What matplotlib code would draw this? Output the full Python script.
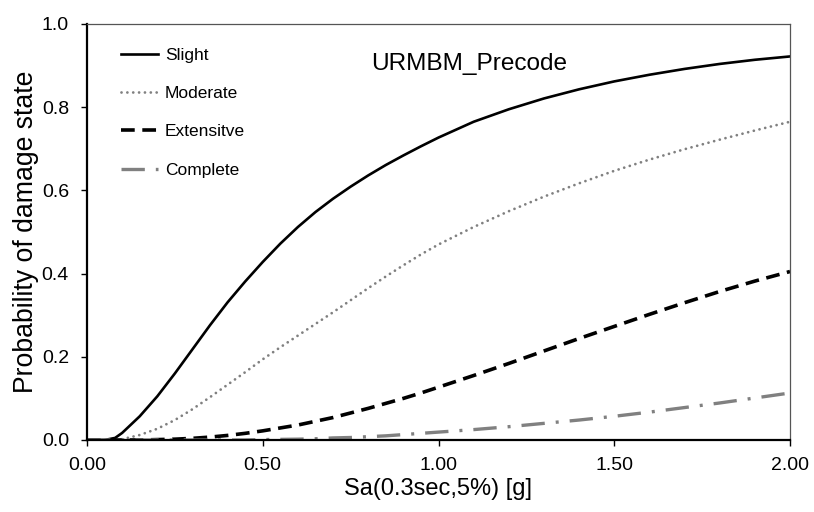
import matplotlib
matplotlib.use("Agg")
import matplotlib.pyplot as plt
from matplotlib.ticker import FixedLocator, FormatStrFormatter

plt.rcParams['font.family'] = ['Liberation Sans', 'DejaVu Sans']

# spectral acceleration (g) and probability of reaching each damage state
sa = [0.00, 0.05, 0.08, 0.10, 0.15, 0.20, 0.25, 0.30, 0.35, 0.40, 0.45, 0.50,
      0.55, 0.60, 0.65, 0.70, 0.75, 0.80, 0.85, 0.90, 0.95, 1.00,
      1.10, 1.20, 1.30, 1.40, 1.50, 1.60, 1.70, 1.80, 1.90, 2.00]
slight = [0.000, 0.000, 0.005, 0.017, 0.057, 0.105, 0.160, 0.218, 0.276, 0.331,
          0.381, 0.428, 0.472, 0.512, 0.548, 0.580, 0.609, 0.636, 0.661, 0.684,
          0.706, 0.727, 0.765, 0.795, 0.821, 0.843, 0.862, 0.878, 0.892, 0.904,
          0.914, 0.922]
moderate = [0.000, 0.000, 0.000, 0.002, 0.012, 0.027, 0.048, 0.074, 0.103, 0.133,
            0.163, 0.194, 0.223, 0.251, 0.279, 0.307, 0.336, 0.365, 0.393, 0.420,
            0.446, 0.470, 0.512, 0.550, 0.585, 0.617, 0.647, 0.674, 0.699, 0.722,
            0.744, 0.765]
extensive = [0.000, 0.000, 0.000, 0.000, 0.000, 0.001, 0.002, 0.004, 0.007, 0.011,
             0.016, 0.022, 0.029, 0.036, 0.045, 0.054, 0.065, 0.076, 0.088, 0.100,
             0.113, 0.127, 0.155, 0.184, 0.214, 0.244, 0.273, 0.302, 0.330, 0.357,
             0.382, 0.405]
complete = [0.000, 0.000, 0.000, 0.000, 0.000, 0.000, 0.000, 0.000, 0.000, 0.000,
            0.000, 0.001, 0.0015, 0.002, 0.003, 0.005, 0.006, 0.008, 0.010, 0.013,
            0.016, 0.019, 0.025, 0.032, 0.040, 0.048, 0.057, 0.067, 0.078, 0.089,
            0.101, 0.113]

labels = ['Slight', 'Moderate', 'Extensitve', 'Complete']
x_ticks = [0.0, 0.5, 1.0, 1.5, 2.0]
y_ticks = [0.0, 0.2, 0.4, 0.6, 0.8, 1.0]

fig = plt.figure(figsize=(8.14, 5.12), dpi=100)
ax = fig.add_axes([87 / 814, 1 - 440 / 512, 703 / 814, 416 / 512])

ax.plot(sa, slight, color='black', lw=1.9, label=labels[0])
ax.plot(sa, moderate, color='#808080', lw=2.0, linestyle=(0, (0.01, 2.1)),
        dash_capstyle='round', label=labels[1])
ax.plot(sa, extensive, color='black', lw=2.6, linestyle=(0, (3.8, 2.1)),
        label=labels[2])
ax.plot(sa, complete, color='#808080', lw=2.4, linestyle=(0, (7, 3.3, 0.9, 3.3)),
        label=labels[3])

ax.set_xlim(0, 2.0)
ax.set_ylim(0, 1.0)
ax.xaxis.set_major_locator(FixedLocator(x_ticks))
ax.yaxis.set_major_locator(FixedLocator(y_ticks))
ax.xaxis.set_major_formatter(FormatStrFormatter('%.2f'))
ax.yaxis.set_major_formatter(FormatStrFormatter('%.1f'))
ax.tick_params(direction='out', length=4, width=1, labelsize=14,
               colors='black')
ax.tick_params(axis='x', pad=8)
ax.tick_params(axis='y', pad=9)

for side in ['left', 'bottom']:
    ax.spines[side].set_linewidth(1.6)
    ax.spines[side].set_color('black')
for side in ['top', 'right']:
    ax.spines[side].set_linewidth(0.9)
    ax.spines[side].set_color('#555555')

ax.set_xlabel('Sa(0.3sec,5%) [g]', fontsize=17, labelpad=3)
ax.set_ylabel('Probability of damage state', fontsize=19.2, labelpad=2)

ax.text(1.088, 0.904, 'URMBM_Precode', fontsize=17.6, ha='center', va='center')

ax.legend(loc='upper left', bbox_to_anchor=(0.048, 0.943), frameon=False,
          fontsize=12.5, handlelength=2.15, handletextpad=0.4,
          labelspacing=1.33, borderpad=0, borderaxespad=0)

fig.savefig('out.png', dpi=100)
